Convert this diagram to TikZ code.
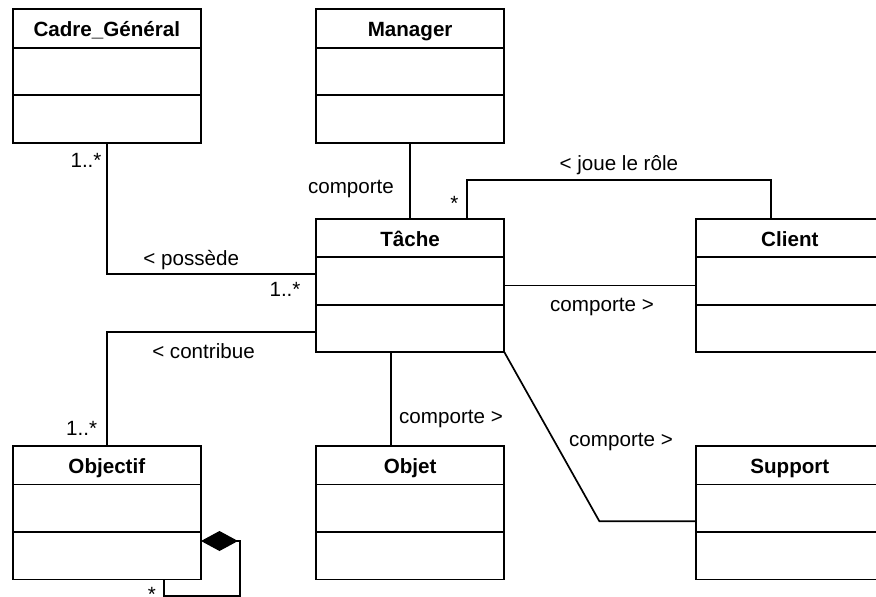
\documentclass[tikz,border=0pt]{standalone}
\usepackage{fontspec}
\setmainfont{Liberation Sans}
\usetikzlibrary{arrows.meta, shapes.multipart}
\newcommand{\clshead}[1]{\textbf{#1}\rule[-10.2pt]{0pt}{36.6pt}}
\newcommand{\clsbody}{\rule{0pt}{45.7pt}}
\tikzset{
  % --- class boxes (name | attributes | operations) ---
  umlclass/.style={
    draw, rectangle split, rectangle split parts=3, anchor=north west,
    text width=188.3pt, align=center, inner sep=0pt, outer sep=0pt,
    line width=1.8pt,
  },
  % --- relations ---
  assoc/.style={line width=1.7pt},
  compose/.style={{Diamond[length=37pt, width=20pt]}-, line width=1.7pt},
  rolelabel/.style={anchor=base},
}

\begin{document}
\begin{tikzpicture}[x=1pt, y=-1pt, font=\fontsize{20.6}{24}\selectfont]
    \useasboundingbox (0,0) rectangle (876,597);
    \clip (0,0) rectangle (876,597);
    % classes
    \node[umlclass] (cadre)    at (12.7,9.3)    {\clshead{Cadre\_Général}\nodepart{two}\clsbody\nodepart{three}\clsbody};
    \node[umlclass] (manager)  at (316,9.3)     {\clshead{Manager}\nodepart{two}\clsbody\nodepart{three}\clsbody};
    \node[umlclass] (tache)    at (316,218.7)   {\clshead{Tâche}\nodepart{two}\clsbody\nodepart{three}\clsbody};
    \node[umlclass] (client)   at (695.7,218.7) {\clshead{Client}\nodepart{two}\clsbody\nodepart{three}\clsbody};
    \node[umlclass] (objectif) at (12.7,446)    {\clshead{Objectif}\nodepart{two}\clsbody\nodepart{three}\clsbody};
    \node[umlclass] (objet)    at (316,446)     {\clshead{Objet}\nodepart{two}\clsbody\nodepart{three}\clsbody};
    \node[umlclass] (support)  at (695.7,446)   {\clshead{Support}\nodepart{two}\clsbody\nodepart{three}\clsbody};
    % bend points
    \coordinate (jr1) at (466.7,179.7);
    \coordinate (jr2) at (770.7,179.7);
    \coordinate (ob1) at (391,0);
    \coordinate (sp1) at (599.4,521.3);
    \coordinate (cm1) at (240,541);
    \coordinate (cm2) at (240,595.8);
    \coordinate (cm3) at (164,595.8);
    % associations
    \draw[assoc] (cadre.south) |- (tache.west |- 0,274.3);
    \draw[assoc] (manager.south) -- (tache.north);
    \draw[assoc] (tache.north -| jr1) -- (jr1) -- (jr2) -- (client.north -| jr2);
    \draw[assoc] (tache.east) -- (client.west);
    \draw[assoc] (tache.west |- 0,331.7) -| (objectif.north);
    \draw[assoc] (tache.south -| ob1) -- (objet.north -| ob1);
    \draw[assoc] (tache.south east) -- (sp1) -- (support.west |- sp1);
    \draw[compose] (objectif.east |- cm1) -- (cm1) -- (cm2) -- (cm3) -- (objectif.south -| cm3);
    % role names and multiplicities
    \node[rolelabel] (lposs) at (191.3,265)   {< possède};
    \node[rolelabel] (lman)  at (351,193.3)   {comporte};
    \node[rolelabel] (ljoue) at (618.8,170)   {< joue le rôle};
    \node[rolelabel] (lcli)  at (602,311.7)   {comporte >};
    \node[rolelabel] (lcont) at (203.5,358.3) {< contribue};
    \node[rolelabel] (lobj)  at (451,423.3)   {comporte >};
    \node[rolelabel] (lsup)  at (621,446.7)   {comporte >};
    \node[anchor=base east] (m1) at (105,167.7) {1..*};
    \node[anchor=base east] (m2) at (304,296.7) {1..*};
    \node[anchor=base east] (m3) at (100.6,435) {1..*};
    \node[anchor=base] (m4) at (454.3,210.2) {*};
    \node[anchor=base] (m5) at (152,601.3)   {*};
\end{tikzpicture}
\end{document}
